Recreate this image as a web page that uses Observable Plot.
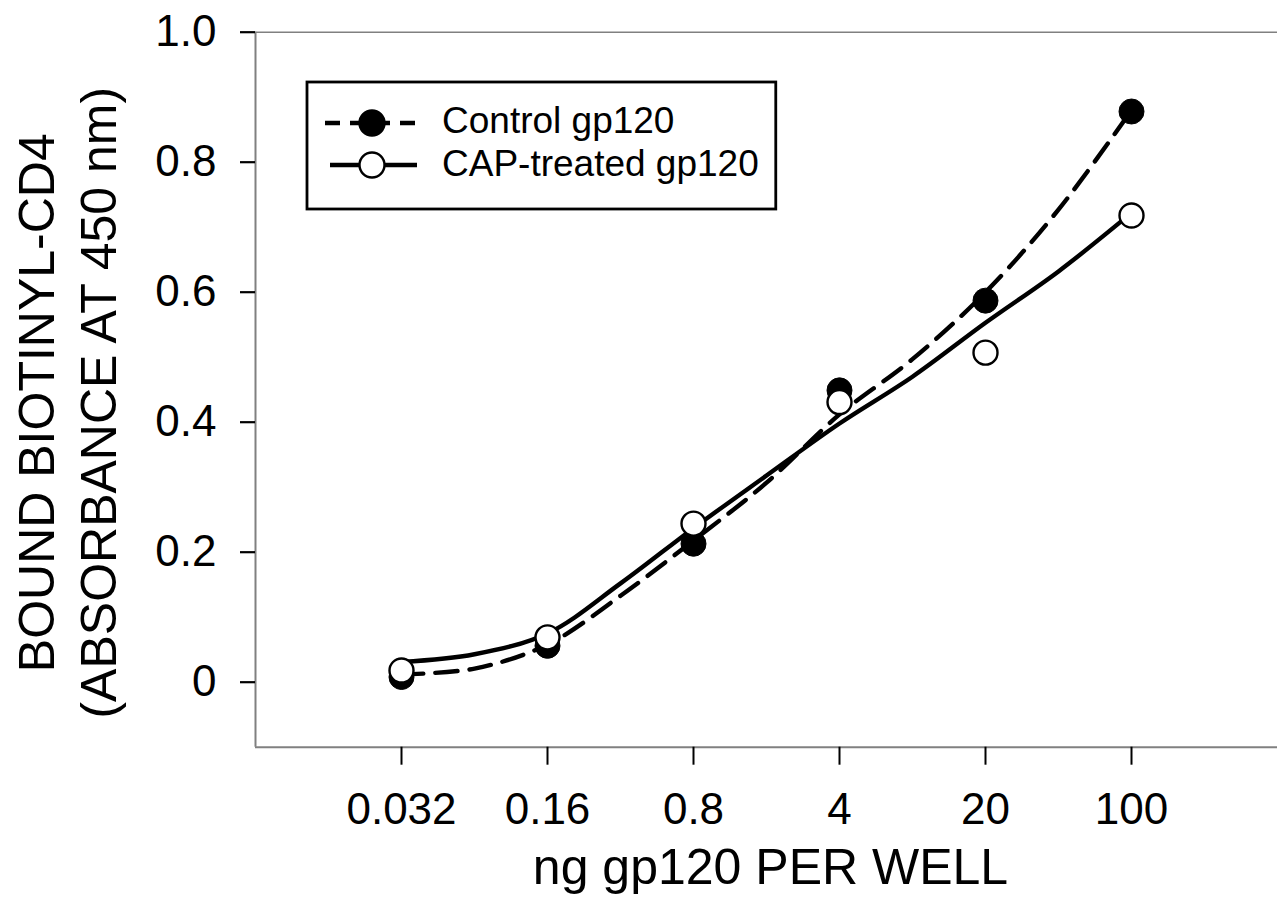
<!DOCTYPE html>
<html>
<head>
<meta charset="utf-8">
<script src="https://cdn.jsdelivr.net/npm/d3@7"></script>
<script src="https://cdn.jsdelivr.net/npm/@observablehq/plot@0.6"></script>
<style>
  html, body { margin: 0; padding: 0; background: #fff; }
  #wrap { position: relative; width: 1277px; height: 903px; overflow: hidden;
          font-family: "Liberation Sans", Arial, Helvetica, sans-serif; }
  #legend { position: absolute; left: 0; top: 0; }
</style>
</head>
<body>
<div id="wrap"></div>
<script>
// ---- Data ----
const doses = [0.032, 0.16, 0.8, 4, 20, 100];              // ng gp120 per well
const doseLabels = ["0.032", "0.16", "0.8", "4", "20", "100"];
const controlValues = [0.008, 0.056, 0.213, 0.449, 0.587, 0.878];
const capValues = [0.018, 0.069, 0.244, 0.431, 0.507, 0.718];

// fitted curves
const curveDoses = [0.032, 0.0716, 0.16, 0.358, 0.8, 1.79, 4, 8.94, 20, 44.7, 100];
const controlCurve = [0.012, 0.021, 0.058, 0.133, 0.218, 0.307, 0.412, 0.497, 0.600, 0.727, 0.88];
const capCurve = [0.031, 0.043, 0.075, 0.152, 0.237, 0.318, 0.398, 0.470, 0.553, 0.632, 0.722];

const yTicks = [0, 0.2, 0.4, 0.6, 0.8, 1.0];
const yTickLabels = ["0", "0.2", "0.4", "0.6", "0.8", "1.0"];
const xDomain = [0.0064, 500];
const yDomain = [-0.1, 1.0];

const seriesNames = ["Control gp120", "CAP-treated gp120"];
const yTitle = ["BOUND BIOTINYL-CD4", "(ABSORBANCE AT 450 nm)"];
const xTitle = "ng gp120 PER WELL";

// ---- Tables ----
const controlPts = doses.map((d, i) => ({dose: d, value: controlValues[i]}));
const capPts = doses.map((d, i) => ({dose: d, value: capValues[i]}));
const controlFit = curveDoses.map((d, i) => ({dose: d, value: controlCurve[i]}));
const capFit = curveDoses.map((d, i) => ({dose: d, value: capCurve[i]}));
const xTickTable = doses.map((d, i) => ({dose: d, label: doseLabels[i]}));

const font = '"Liberation Sans", Arial, Helvetica, sans-serif';
const axisGrey = "#808080";
const lineW = 4.4;

const chart = Plot.plot({
  width: 1277,
  height: 903,
  marginLeft: 255,
  marginRight: 0,
  marginTop: 31.7,
  marginBottom: 156.3,
  style: {fontFamily: font, background: "#fff", color: "#000", overflow: "visible"},
  x: {type: "log", domain: xDomain},
  y: {domain: yDomain},
  marks: [
    // frame sides (top, bottom, left)
    Plot.ruleY([yDomain[1]], {stroke: axisGrey, strokeWidth: 1.5}),
    Plot.ruleY([yDomain[0]], {stroke: axisGrey, strokeWidth: 2}),
    Plot.ruleX([xDomain[0]], {stroke: axisGrey, strokeWidth: 2}),
    Plot.axisY({
      ticks: yTicks,
      tickFormat: (d) => yTickLabels[d3.minIndex(yTicks, (t) => Math.abs(t - d))],
      tickSize: 15,
      tickPadding: 24,
      fontSize: 44,
      strokeWidth: 2.2,
      stroke: "#000",
      label: null
    }),
    // x ticks (marks) and their labels
    Plot.axisX({
      ticks: doses,
      tickFormat: () => "",
      tickSize: 18,
      strokeWidth: 2,
      stroke: "#000",
      label: null
    }),
    Plot.text(xTickTable, {
      x: "dose",
      text: "label",
      frameAnchor: "bottom",
      dy: 18 + 28,
      lineAnchor: "top",
      textAnchor: "middle",
      fontSize: 44,
      fill: "#000"
    }),
    // axis titles
    Plot.text([yTitle.join("\n")], {
      frameAnchor: "left",
      rotate: -90,
      dx: 115 - 255,
      dy: 13,
      textAnchor: "middle",
      lineAnchor: "bottom",
      lineHeight: 1.24,
      fontSize: 50,
      fill: "#000"
    }),
    Plot.text([xTitle], {
      frameAnchor: "bottom",
      dx: 4,
      dy: 137,
      textAnchor: "middle",
      lineAnchor: "bottom",
      fontSize: 50,
      fill: "#000"
    }),
    // fitted curves
    Plot.line(controlFit, {x: "dose", y: "value", curve: "catmull-rom",
      stroke: "#000", strokeWidth: lineW, strokeDasharray: "22,12"}),
    Plot.line(capFit, {x: "dose", y: "value", curve: "catmull-rom",
      stroke: "#000", strokeWidth: lineW}),
    // data points
    Plot.dot(controlPts, {x: "dose", y: "value", r: 12.5, fill: "#000", stroke: "#000", strokeWidth: 1}),
    Plot.dot(capPts, {x: "dose", y: "value", r: 12, fill: "#fff", stroke: "#000", strokeWidth: 2.4})
  ]
});

const wrap = document.getElementById("wrap");
wrap.appendChild(chart);

// ---- Legend (overlay) ----
const ns = "http://www.w3.org/2000/svg";
const leg = document.createElementNS(ns, "svg");
leg.setAttribute("id", "legend");
leg.setAttribute("width", 1277);
leg.setAttribute("height", 903);
wrap.appendChild(leg);

function el(tag, attrs) {
  const e = document.createElementNS(ns, tag);
  for (const k in attrs) e.setAttribute(k, attrs[k]);
  leg.appendChild(e);
  return e;
}
const box = el("rect", {x: 307, y: 82, width: 400, height: 127, fill: "#fff", stroke: "#000", "stroke-width": 2.8});
const rows = [
  {y: 123, dash: true, x1: 325, x2: 420, fill: "#000"},
  {y: 165, dash: false, x1: 330, x2: 417, fill: "#fff"}
];
let maxEnd = 0;
rows.forEach((r, i) => {
  const ln = el("line", {x1: r.x1, x2: r.x2, y1: r.y, y2: r.y, stroke: "#000", "stroke-width": 4.6});
  if (r.dash) ln.setAttribute("stroke-dasharray", "15,10");
  el("circle", {cx: 372, cy: r.y, r: 12.5, fill: r.fill, stroke: "#000", "stroke-width": 2.4});
  const t = el("text", {x: 442, y: r.y + 10 + i * 1, "font-size": 37, "font-family": font, fill: "#000"});
  t.textContent = seriesNames[i];
  maxEnd = Math.max(maxEnd, 442 + t.getComputedTextLength());
});
box.setAttribute("width", maxEnd + 17 - 307);
</script>
</body>
</html>
